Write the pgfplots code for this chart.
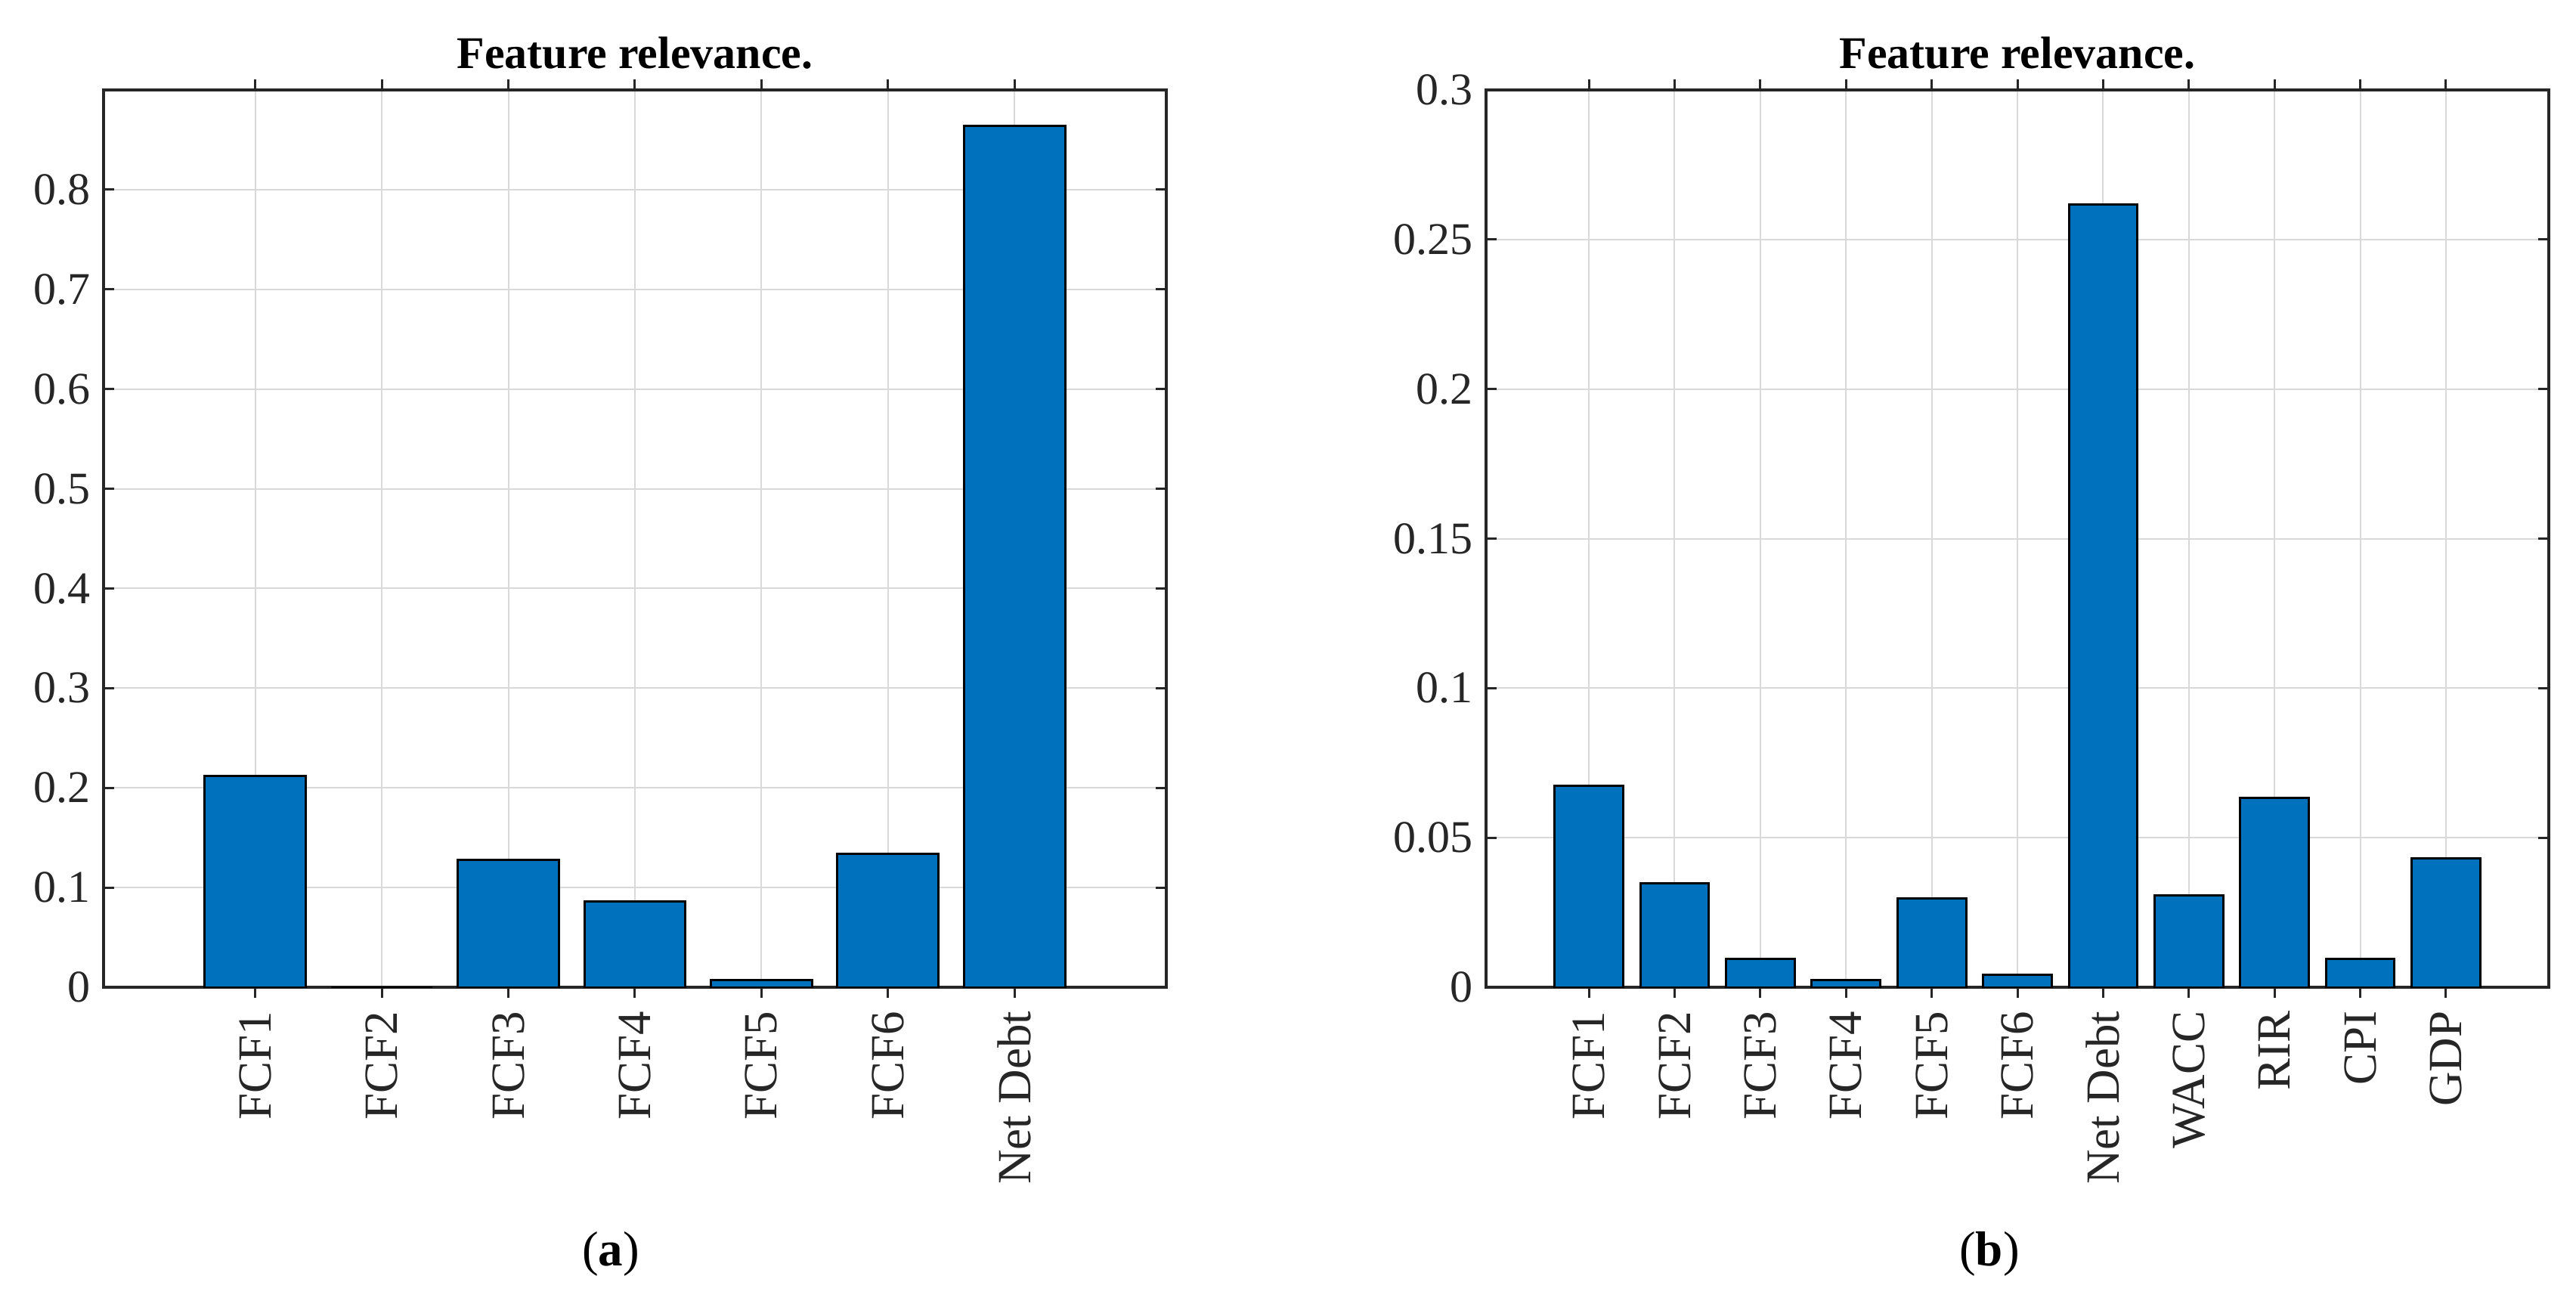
\documentclass[border=0pt]{standalone}
\usepackage{fontspec}
\setmainfont{Liberation Serif}
\usepackage{pgfplots}
\pgfplotsset{compat=1.18}
\definecolor{matblue}{HTML}{0072BD}
\definecolor{axgray}{HTML}{262626}
\definecolor{gridgray}{HTML}{D9D9D9}

\pgfplotsset{
  relstyle/.style={
    scale only axis, width=281.2pt, height=237.4pt,
    ybar, bar width=0.8,
    xtick=data, ymin=0,
    x tick label style={rotate=90, anchor=east, font=\fontsize{12.6}{14}\selectfont, text=axgray},
    y tick label style={font=\fontsize{12}{14}\selectfont, text=axgray},
    /pgf/number format/assume math mode=true,
    yticklabel style={/pgf/number format/fixed, /pgf/number format/precision=2},
    grid=major, major grid style={gridgray, line width=0.4pt},
    axis line style={axgray, line width=0.8pt},
    tick style={axgray, line width=0.6pt}, major tick length=2.8pt,
    title={Feature relevance.},
    title style={font=\bfseries\fontsize{12}{14}\selectfont, yshift=-4pt},
  },
  relbar/.style={fill=matblue, draw=black, line width=0.6pt},
}

\begin{document}
\begin{tikzpicture}
\useasboundingbox (0,0) rectangle (681.6pt,345.6pt);

% (a) without macro variables
\begin{axis}[relstyle, at={(27.4pt,84.4pt)}, anchor=south west,
  xmin=-0.2, xmax=8.2, ymax=0.9,
  ytick={0,0.1,0.2,0.3,0.4,0.5,0.6,0.7,0.8},
  xticklabels={FCF1,FCF2,FCF3,FCF4,FCF5,FCF6,Net Debt}]
\addplot[relbar] coordinates {(1,0.212) (2,0) (3,0.128) (4,0.086) (5,0.007) (6,0.134) (7,0.864)};
\end{axis}

% (b) with WACC, RIR, CPI, GDP
\begin{axis}[relstyle, at={(393.2pt,84.4pt)}, anchor=south west,
  xmin=-0.2, xmax=12.2, ymax=0.3,
  ytick={0,0.05,0.1,0.15,0.2,0.25,0.3},
  xticklabels={FCF1,FCF2,FCF3,FCF4,FCF5,FCF6,Net Debt,WACC,RIR,CPI,GDP}]
\addplot[relbar] coordinates {(1,0.0673) (2,0.0347) (3,0.0095) (4,0.0023) (5,0.0297) (6,0.0042)
  (7,0.2616) (8,0.0308) (9,0.0632) (10,0.0095) (11,0.043)};
\end{axis}

\node at (161.6pt,13.8pt) {\fontsize{13}{15}\selectfont(\textbf{a})};
\node at (526.4pt,13.8pt) {\fontsize{13}{15}\selectfont(\textbf{b})};
\end{tikzpicture}
\end{document}
